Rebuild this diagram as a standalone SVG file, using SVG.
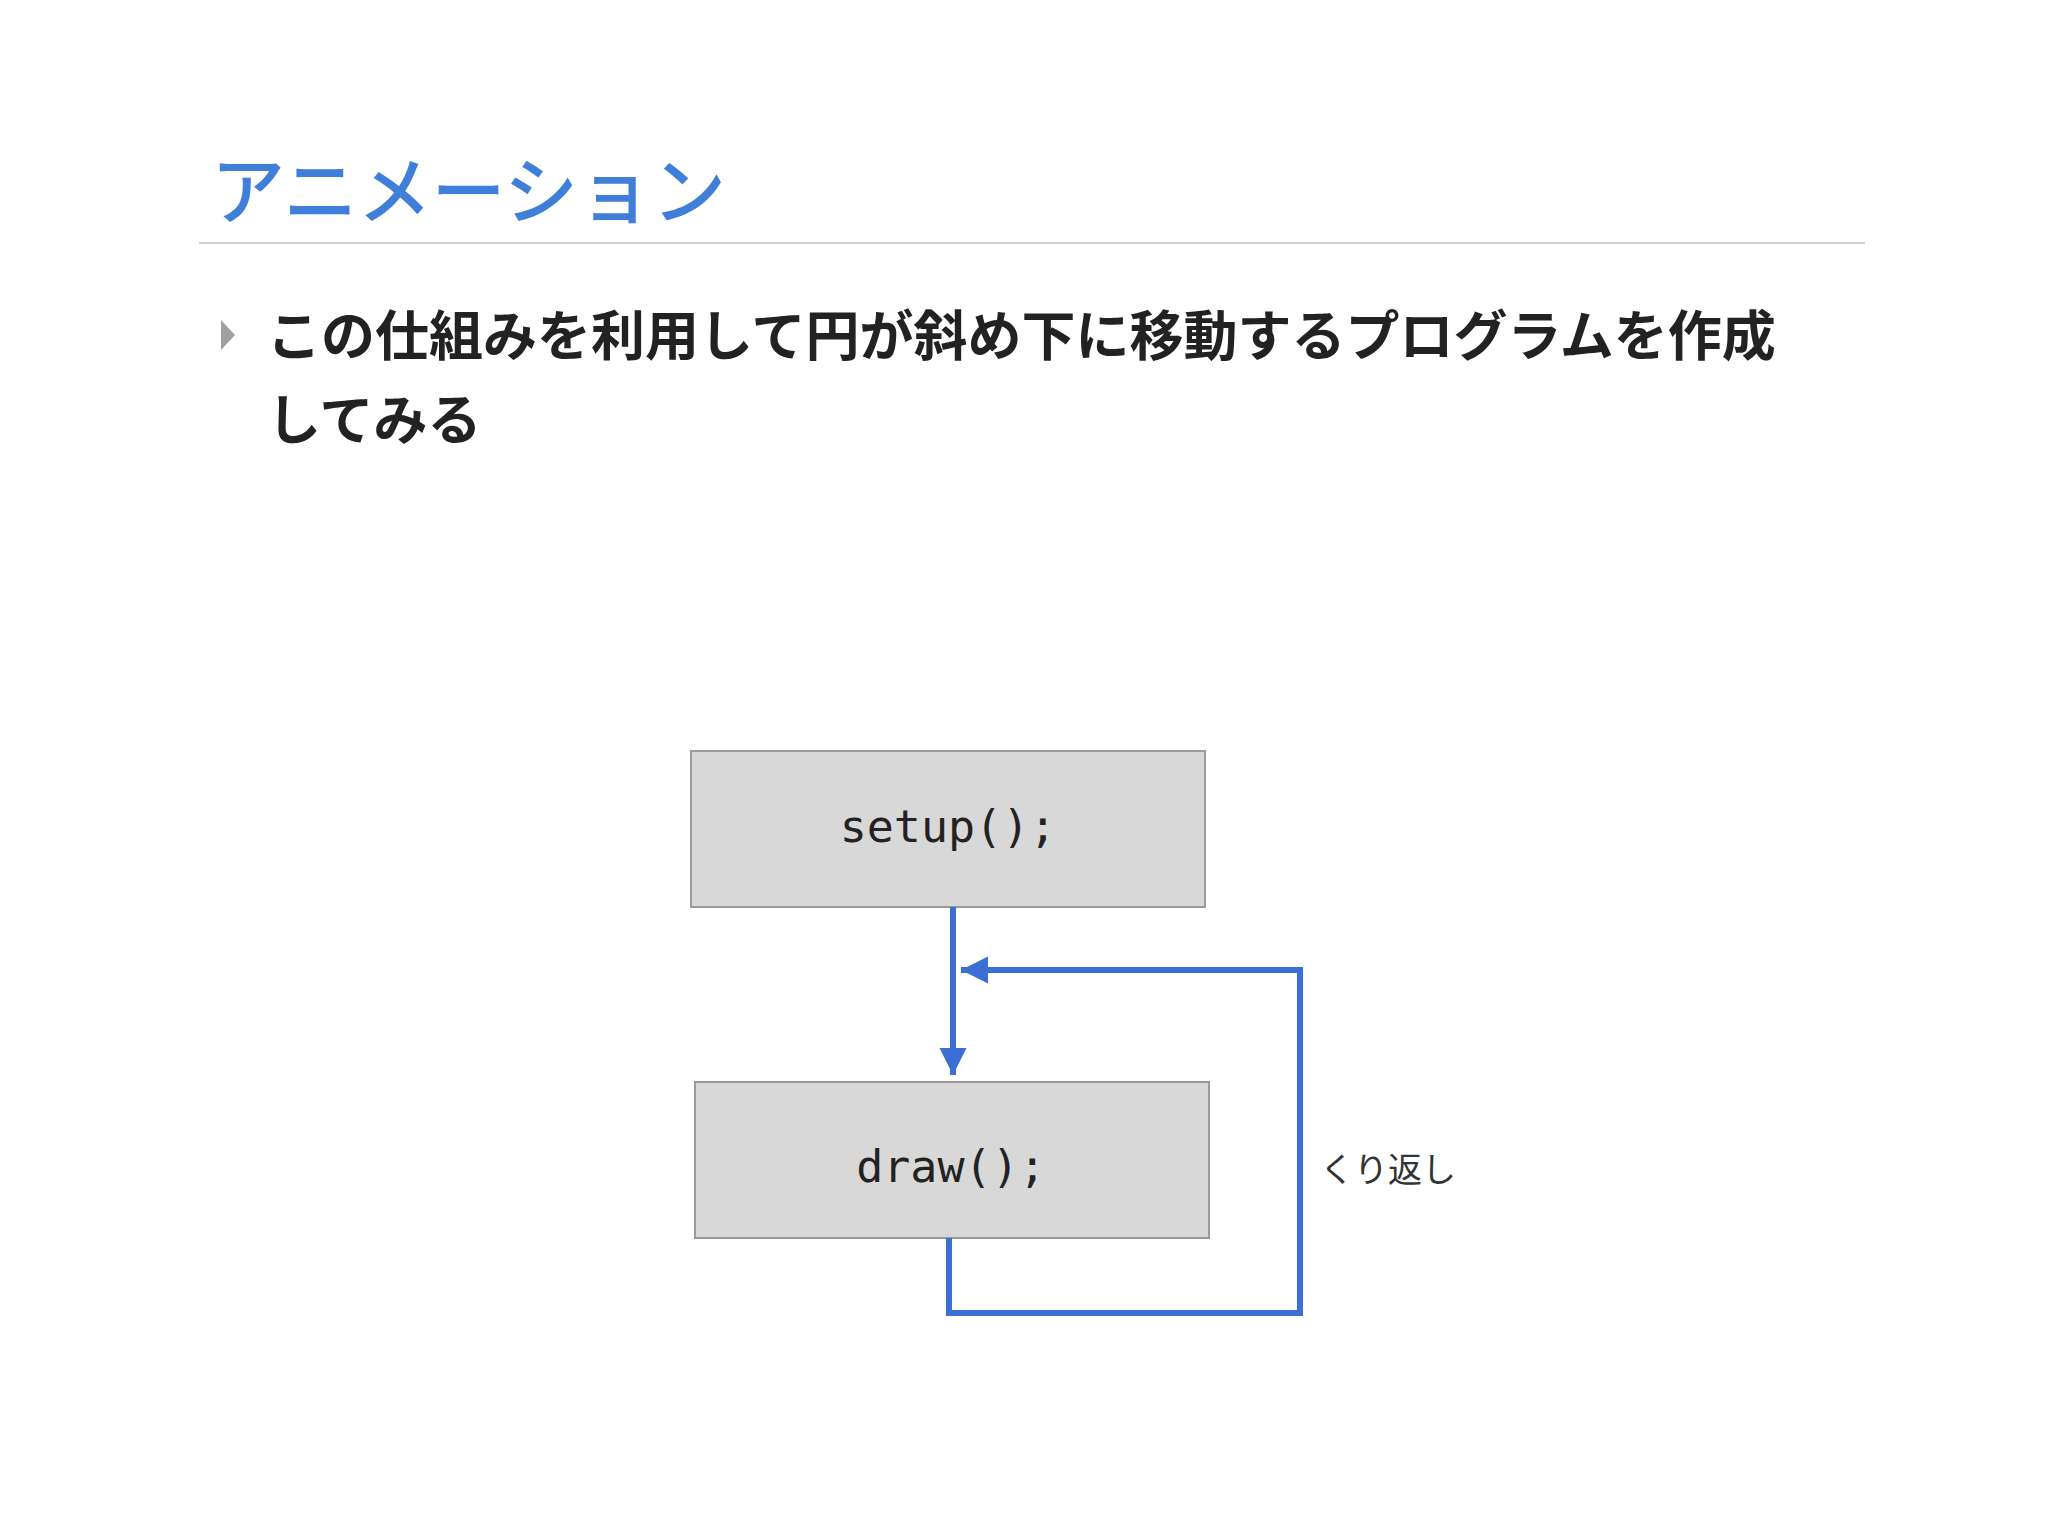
<svg xmlns="http://www.w3.org/2000/svg" width="2048" height="1536" viewBox="0 0 2048 1536">
<defs>
<style>
.jp{font-family:"Noto Sans CJK JP","Noto Sans",sans-serif}
.box{fill:#d9d8d9;stroke:#9a9a9a;stroke-width:2}
.code{font-family:"DejaVu Sans Mono","Liberation Mono",monospace;font-size:45px;fill:#222;text-anchor:middle}
.flow{fill:none;stroke:#3b6fd6;stroke-width:6}
</style>
<marker id="ah" viewBox="0 0 10 10" refX="10" refY="5" markerWidth="4.5" markerHeight="6" markerUnits="strokeWidth" orient="auto"><path d="M0,0 L10,5 L0,10 z" fill="#3b6fd6"/></marker>
</defs>
<rect width="2048" height="1536" fill="#fff"/>
<text x="211" y="218" class="jp" font-size="74" font-weight="500" fill="#3f7fd9">アニメーション</text>
<line x1="199" y1="243" x2="1865" y2="243" stroke="#cfcfcf" stroke-width="2"/>
<polygon points="221,320 235,335 221,350" fill="#a0a0a0"/>
<text class="jp" font-size="54" font-weight="700" fill="#222"><tspan x="267" y="356">この仕組みを利用して円が斜め下に移動するプログラムを作成</tspan><tspan x="267" y="440">してみる</tspan></text>
<g id="setup"><rect class="box" x="691" y="751" width="514" height="156"/><text class="code" x="948" y="842">setup();</text></g>
<g id="draw"><rect class="box" x="695" y="1082" width="514" height="156"/><text class="code" x="951" y="1182">draw();</text></g>
<g id="connectors">
<line class="flow" x1="953" y1="907" x2="953" y2="1075" marker-end="url(#ah)"/>
<polyline class="flow" points="949,1238 949,1313 1300,1313 1300,970 961,970" marker-end="url(#ah)"/>
</g>
<text x="1320" y="1182" class="jp" font-size="34" fill="#333">くり返し</text>
</svg>
